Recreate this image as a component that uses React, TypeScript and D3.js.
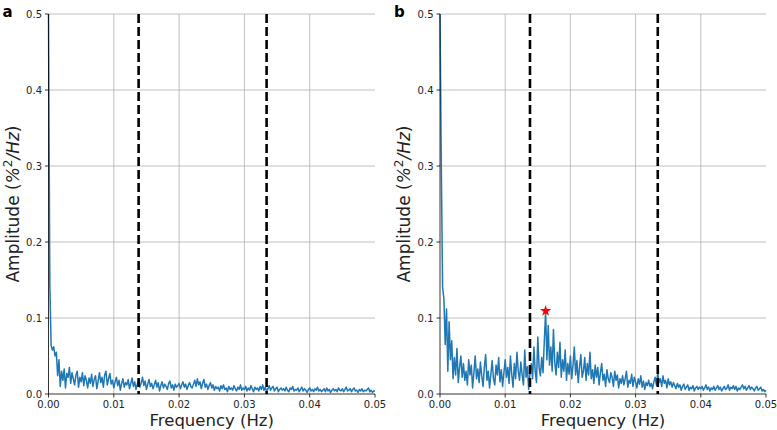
import React from "react";
import * as d3 from "d3";

// Frequency step (Hz) between successive spectrum samples, starting at 0
const freqStep = 0.0002;

// Panel a amplitudes (units of 0.001 %^2/Hz), one per frequency bin 0..0.05
const ampA = [
  500,145,64,58,62,50,55,24,45,10,
  30,18,33,8,27,22,35,14,28,20,
  12,25,30,9,22,16,28,11,24,18,
  8,21,14,26,10,19,24,7,17,28,
  15,22,9,25,30,12,20,27,13,18,
  8,16,22,11,18,5,14,20,9,15,
  12,19,7,14,21,10,16,6,13,18,
  9,15,22,11,17,6,13,19,10,14,
  7,12,18,9,15,4,11,16,8,13,
  10,6,14,17,8,12,5,13,9,11,
  14,7,12,16,9,13,6,11,15,10,
  8,13,18,10,20,12,16,7,14,19,
  9,13,6,11,15,8,12,5,10,7,
  9,4,11,7,12,6,8,3,10,6,
  8,5,11,7,4,9,6,12,5,8,
  6,10,4,8,5,11,7,3,9,6,
  8,4,10,6,12,5,9,3,7,11,
  5,8,10,4,7,9,3,6,8,5,
  7,4,9,5,3,8,6,10,4,6,
  5,8,3,6,9,4,7,5,2,6,
  8,4,6,3,7,5,9,4,6,3,
  5,7,3,8,4,6,2,5,7,4,
  6,3,8,5,4,7,3,6,9,4,
  5,7,3,6,8,4,5,2,6,4,
  7,3,5,4,6,8,3,5,2,4,
  4,
];

// Panel b amplitudes (units of 0.001 %^2/Hz)
const ampB = [
  500,300,140,125,65,112,30,95,45,70,
  20,48,25,60,15,35,50,22,40,18,
  30,12,45,25,38,8,28,50,20,33,
  15,42,24,10,35,52,18,30,8,26,
  44,20,12,38,25,48,16,32,10,28,
  45,22,35,14,50,26,9,40,20,55,
  30,18,42,25,12,58,22,36,6,28,
  40,20,62,30,15,75,35,24,48,28,
  70,108,45,90,38,62,30,85,42,25,
  55,35,68,22,45,30,58,18,40,26,
  50,20,38,62,25,44,15,35,52,22,
  30,48,18,40,25,55,20,32,14,38,
  22,35,12,28,40,18,26,10,32,20,
  15,28,22,10,30,18,25,8,20,14,
  24,12,20,30,9,18,14,26,10,22,
  16,8,20,13,24,9,17,6,15,11,
  18,10,14,7,16,22,12,28,15,20,
  10,24,14,18,8,20,12,16,9,15,
  11,7,14,9,12,5,10,13,6,9,
  12,5,9,7,11,4,8,10,6,9,
  7,10,5,8,12,6,9,4,8,6,
  10,5,8,11,6,9,4,7,10,6,
  8,12,5,9,7,11,6,10,4,8,
  6,9,12,7,10,5,8,11,6,9,
  7,4,8,10,5,7,9,4,6,3,
  5,
];

// Dashed band boundaries (Hz)
const bandLines = [0.0138, 0.0334];
const xTicks = [0, 0.01, 0.02, 0.03, 0.04, 0.05];
const yTicks = [0, 0.1, 0.2, 0.3, 0.4, 0.5];
const panelLabels = ["a", "b"];

const FONT = "DejaVu Sans, sans-serif";

function Panel({ x0, x1, amps, label, star }: { x0: number; x1: number; amps: number[]; label: string; star: boolean }) {
  const top = 14;
  const bottom = 394;
  const x = d3.scaleLinear().domain([0, 0.05]).range([x0, x1]);
  const y = d3.scaleLinear().domain([0, 0.5]).range([bottom, top]);
  const pts: [number, number][] = amps.map((a, i) => [i * freqStep, a / 1000]);
  const line = d3
    .line<[number, number]>()
    .x((d) => x(d[0]))
    .y((d) => y(d[1]));
  let peak = pts[0];
  if (star) {
    const rest = pts.filter((p) => p[0] > 0.005);
    peak = rest.reduce((m, p) => (p[1] > m[1] ? p : m), rest[0]);
  }
  const starPath = d3.symbol(d3.symbolStar, 40)();
  return (
    <g>
      {/* grid */}
      {xTicks.slice(1, -1).map((t) => (
        <line key={"gx" + t} x1={x(t)} x2={x(t)} y1={top} y2={bottom} stroke="#b0b0b0" strokeWidth={0.8} />
      ))}
      {yTicks.slice(1).map((t) => (
        <line key={"gy" + t} x1={x0} x2={x1} y1={y(t)} y2={y(t)} stroke="#b0b0b0" strokeWidth={0.8} />
      ))}
      {/* spectrum */}
      <path d={line(pts) || ""} fill="none" stroke="#1f77b4" strokeWidth={1.5} strokeLinejoin="round" />
      {star && (
        <path d={starPath || ""} transform={`translate(${x(peak[0])},${y(peak[1]) - 1})`} fill="red" />
      )}
      {/* dashed lines */}
      {bandLines.map((b) => (
        <line key={"b" + b} x1={x(b)} x2={x(b)} y1={top} y2={bottom} stroke="black" strokeWidth={2.6} strokeDasharray="9,4" />
      ))}
      {/* spines */}
      <line x1={x0} x2={x0} y1={top} y2={bottom} stroke="black" strokeWidth={0.8} />
      <line x1={x0} x2={x1} y1={bottom} y2={bottom} stroke="black" strokeWidth={0.8} />
      {/* x ticks */}
      {xTicks.map((t) => (
        <g key={"xt" + t}>
          <line x1={x(t)} x2={x(t)} y1={bottom} y2={bottom + 3.5} stroke="black" strokeWidth={0.8} />
          <text x={x(t)} y={bottom + 13.5} fontSize={10} fontFamily={FONT} textAnchor="middle" fill="#222">
            {d3.format(".2f")(t)}
          </text>
        </g>
      ))}
      {/* y ticks */}
      {yTicks.map((t) => (
        <g key={"yt" + t}>
          <line x1={x0 - 3.5} x2={x0} y1={y(t)} y2={y(t)} stroke="black" strokeWidth={0.8} />
          <text x={x0 - 6.5} y={y(t) + 3.6} fontSize={10} fontFamily={FONT} textAnchor="end" fill="#222">
            {d3.format(".1f")(t)}
          </text>
        </g>
      ))}
      {/* axis labels */}
      <text x={(x0 + x1) / 2} y={425.5} fontSize={16.5} fontFamily={FONT} textAnchor="middle" fill="#222">
        Frequency (Hz)
      </text>
      <text
        transform={`translate(${x0 - 30},${(top + bottom) / 2}) rotate(-90)`}
        fontSize={17}
        fontFamily={FONT}
        textAnchor="middle"
        fill="#222"
      >
        Amplitude (
        <tspan fontStyle="italic">%</tspan>
        <tspan fontSize={12} dy={-7}>2</tspan>
        <tspan dy={7} fontStyle="italic">/Hz</tspan>)
      </text>
      <text x={x0 - 46} y={17} fontSize={15} fontWeight="bold" fontFamily={FONT} fill="black">
        {label}
      </text>
    </g>
  );
}

export default function App() {
  return (
    <svg
      width={777}
      height={430}
      style={{ position: "absolute", left: 0, top: 0, background: "white" }}
    >
      <rect width={777} height={430} fill="white" />
      <Panel x0={48.5} x1={375} amps={ampA} label={panelLabels[0]} star={false} />
      <Panel x0={440} x1={766} amps={ampB} label={panelLabels[1]} star={true} />
    </svg>
  );
}
